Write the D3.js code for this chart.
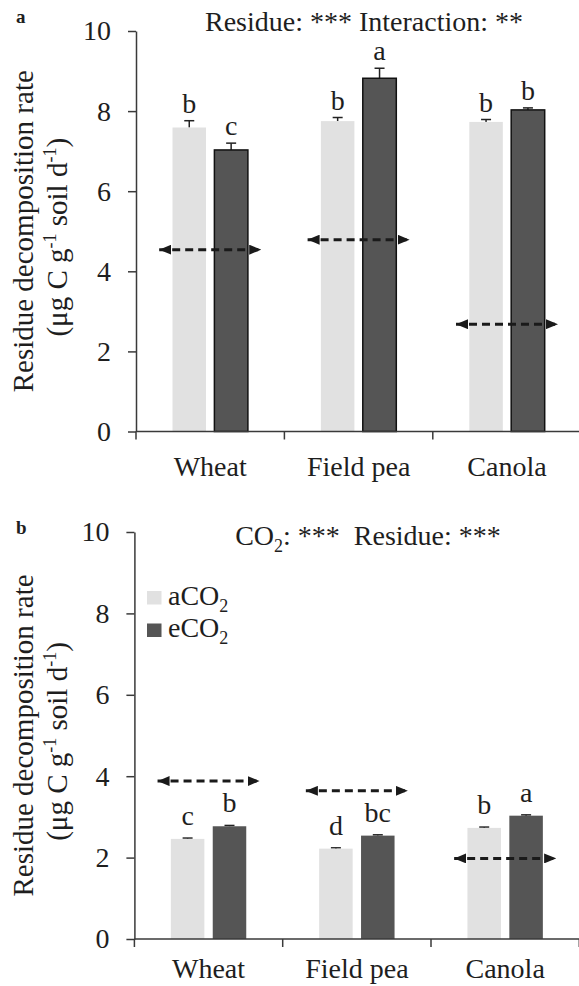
<!DOCTYPE html>
<html>
<head>
<meta charset="utf-8">
<script src="https://cdn.jsdelivr.net/npm/d3@7/dist/d3.min.js"></script>
<style>
  body { margin: 0; background: #fff; }
  svg { display: block; font-family: "Liberation Serif", "Times New Roman", serif; }
</style>
</head>
<body>
<svg id="chart" width="579" height="986"></svg>
<script>
// categories and series
var categories = ["Wheat", "Field pea", "Canola"];
var seriesNames = ["aCO2", "eCO2"];
var yTicks = [0, 2, 4, 6, 8, 10];

// panel a values
var meansA_amb = [7.59, 7.75, 7.73];
var meansA_elev = [7.03, 8.82, 8.03];
var seA_amb = [0.17, 0.09, 0.06];
var seA_elev = [0.17, 0.25, 0.05];
var lettersA_amb = ["b", "b", "b"];
var lettersA_elev = ["c", "a", "b"];
var arrowsA = [4.54, 4.79, 2.68];

// panel b values
var meansB_amb = [2.46, 2.22, 2.73];
var meansB_elev = [2.77, 2.54, 3.03];
var seB_amb = [0.02, 0.02, 0.02];
var seB_elev = [0.02, 0.02, 0.02];
var lettersB_amb = ["c", "d", "b"];
var lettersB_elev = ["b", "bc", "a"];
var arrowsB = [3.88, 3.64, 1.98];

var colors = { "aCO2": "#e1e1e1", "eCO2": "#555555" };
var textColor = "#1e1e1e";
var axisColor = "#3a3a3a";

var svg = d3.select("#chart");

var defs = svg.append("defs");
defs.append("marker")
    .attr("id", "head")
    .attr("viewBox", "0 0 12 10")
    .attr("refX", 12).attr("refY", 5)
    .attr("markerWidth", 12).attr("markerHeight", 10)
    .attr("markerUnits", "userSpaceOnUse")
    .attr("orient", "auto-start-reverse")
    .append("path")
    .attr("d", "M0,0 L12,5 L0,10 Z")
    .attr("fill", "#1a1a1a");

function drawPanel(cfg) {
    var g = svg.append("g");

    var x0 = d3.scaleBand().domain(categories).range([cfg.left, cfg.right]).padding(0);
    var half = 37.7;
    var x1 = d3.scaleBand().domain(seriesNames)
        .range([x0.bandwidth() / 2 - half, x0.bandwidth() / 2 + half])
        .paddingInner(0.2).paddingOuter(0);
    var y = d3.scaleLinear().domain([0, 10]).range([cfg.bottom, cfg.top]);

    var rows = categories.map(function (c, i) {
        return {
            cat: c,
            vals: [
                { s: "aCO2", v: cfg.amb[i], se: cfg.seAmb[i], letter: cfg.letAmb[i] },
                { s: "eCO2", v: cfg.elev[i], se: cfg.seElev[i], letter: cfg.letElev[i] }
            ],
            arrow: cfg.arrows[i]
        };
    });

    var groups = g.selectAll("g.cat")
        .data(rows)
        .enter().append("g")
        .attr("class", "cat")
        .attr("transform", function (d) { return "translate(" + x0(d.cat) + ",0)"; });

    var bars = groups.selectAll("g.bar")
        .data(function (d) { return d.vals; })
        .enter().append("g").attr("class", "bar");

    // error bars (upper only)
    bars.append("line")
        .attr("x1", function (d) { return x1(d.s) + x1.bandwidth() / 2; })
        .attr("x2", function (d) { return x1(d.s) + x1.bandwidth() / 2; })
        .attr("y1", function (d) { return y(d.v); })
        .attr("y2", function (d) { return y(d.v + d.se); })
        .attr("stroke", "#222").attr("stroke-width", 1.5);
    bars.append("line")
        .attr("x1", function (d) { return x1(d.s) + x1.bandwidth() / 2 - 5; })
        .attr("x2", function (d) { return x1(d.s) + x1.bandwidth() / 2 + 5; })
        .attr("y1", function (d) { return y(d.v + d.se); })
        .attr("y2", function (d) { return y(d.v + d.se); })
        .attr("stroke", "#222").attr("stroke-width", 1.5);

    bars.append("rect")
        .attr("x", function (d) { return x1(d.s); })
        .attr("width", x1.bandwidth())
        .attr("y", function (d) { return y(d.v); })
        .attr("height", function (d) { return y(0) - y(d.v); })
        .attr("fill", function (d) { return colors[d.s]; })
        .attr("stroke", function (d) { return (cfg.outline && d.s === "eCO2") ? "#111" : "none"; })
        .attr("stroke-width", 1.5);

    bars.append("text")
        .attr("x", function (d) { return x1(d.s) + x1.bandwidth() / 2; })
        .attr("y", function (d) { return y(d.v + d.se) - cfg.letterGap; })
        .attr("text-anchor", "middle")
        .attr("font-size", 28)
        .attr("fill", textColor)
        .text(function (d) { return d.letter; });

    // dashed double arrows
    groups.append("line")
        .attr("x1", x0.bandwidth() / 2 - 51)
        .attr("x2", x0.bandwidth() / 2 + 51)
        .attr("y1", function (d) { return y(d.arrow); })
        .attr("y2", function (d) { return y(d.arrow); })
        .attr("stroke", "#1a1a1a")
        .attr("stroke-width", 3)
        .attr("stroke-dasharray", "8,5")
        .attr("marker-start", "url(#head)")
        .attr("marker-end", "url(#head)");

    // y axis
    var yAxis = g.append("g")
        .attr("transform", "translate(" + cfg.left + ",0)")
        .call(d3.axisLeft(y).tickValues(yTicks).tickSize(8).tickSizeOuter(0).tickPadding(17));
    yAxis.selectAll("text").attr("font-size", 28).attr("fill", textColor)
        .attr("font-family", "Liberation Serif, Times New Roman, serif");

    // x axis
    var xAxis = g.append("g")
        .attr("transform", "translate(0," + cfg.bottom + ")")
        .call(d3.axisBottom(x0).tickSize(0).tickSizeOuter(0).tickPadding(cfg.labelPad));
    xAxis.selectAll("text").attr("font-size", 28).attr("fill", textColor)
        .attr("font-family", "Liberation Serif, Times New Roman, serif");
    xAxis.select(".domain").attr("d", "M" + cfg.left + ",0H579");

    var bounds = categories.map(function (c) { return x0(c); }).concat([cfg.right]);
    g.selectAll("line.btick")
        .data(bounds)
        .enter().append("line")
        .attr("class", "btick")
        .attr("x1", function (d) { return d; }).attr("x2", function (d) { return d; })
        .attr("y1", cfg.bottom).attr("y2", cfg.bottom + 8)
        .attr("stroke", axisColor).attr("stroke-width", 1.5);

    g.selectAll(".domain, .tick line").attr("stroke", axisColor).attr("stroke-width", 1.5);

    // y axis title
    var midY = (cfg.top + cfg.bottom) / 2;
    g.append("text")
        .attr("transform", "translate(33," + midY + ") rotate(-90)")
        .attr("text-anchor", "middle")
        .attr("font-size", 29)
        .attr("fill", textColor)
        .text("Residue decomposition rate");
    var t2 = g.append("text")
        .attr("transform", "translate(67," + (midY + 6) + ") rotate(-90)")
        .attr("text-anchor", "middle")
        .attr("font-size", 29)
        .attr("fill", textColor);
    t2.append("tspan").text("(μg C g");
    t2.append("tspan").attr("font-size", 18).attr("dy", -11).text("-1");
    t2.append("tspan").attr("dy", 11).text(" soil d");
    t2.append("tspan").attr("font-size", 18).attr("dy", -11).text("-1");
    t2.append("tspan").attr("dy", 11).text(")");

    // panel letter
    g.append("text")
        .attr("x", 16).attr("y", cfg.top + cfg.letterDy)
        .attr("font-size", 19).attr("font-weight", "bold")
        .attr("fill", textColor)
        .text(cfg.panel);

    return { g: g, y: y, x0: x0 };
}

var pa = drawPanel({
    panel: "a", left: 136, right: 581.2, top: 31, bottom: 431.5,
    amb: meansA_amb, elev: meansA_elev, seAmb: seA_amb, seElev: seA_elev,
    letAmb: lettersA_amb, letElev: lettersA_elev, arrows: arrowsA,
    outline: true, letterGap: 8, letterDy: -8, labelPad: 25
});

var pb = drawPanel({
    panel: "b", left: 134.4, right: 579.3, top: 532, bottom: 939,
    amb: meansB_amb, elev: meansB_elev, seAmb: seB_amb, seElev: seB_elev,
    letAmb: lettersB_amb, letElev: lettersB_elev, arrows: arrowsB,
    outline: false, letterGap: 13, letterDy: 2, labelPad: 19
});

// titles
pa.g.append("text")
    .attr("x", 364).attr("y", 31)
    .attr("text-anchor", "middle")
    .attr("font-size", 28).attr("fill", textColor)
    .text("Residue: *** Interaction: **");

var tb = pb.g.append("text")
    .attr("x", 368).attr("y", 545)
    .attr("text-anchor", "middle")
    .attr("font-size", 28).attr("fill", textColor)
    .attr("xml:space", "preserve");
tb.append("tspan").text("CO");
tb.append("tspan").attr("font-size", 18).attr("dy", 7).text("2");
tb.append("tspan").attr("dy", -7).text(": ***  Residue: ***");

// legend in panel b
var legend = pb.g.append("g").attr("transform", "translate(147,591)");
var li = legend.selectAll("g")
    .data(seriesNames)
    .enter().append("g")
    .attr("transform", function (d, i) { return "translate(0," + (i * 32.5) + ")"; });
li.append("rect").attr("width", 14.5).attr("height", 13.5)
    .attr("fill", function (d) { return colors[d]; });
var lt = li.append("text").attr("x", 21).attr("y", 13.5)
    .attr("font-size", 28).attr("fill", textColor);
lt.append("tspan").text(function (d) { return d.slice(0, 3); });
lt.append("tspan").attr("font-size", 18).attr("dy", 7).text(function (d) { return d.slice(3); });
</script>
</body>
</html>
